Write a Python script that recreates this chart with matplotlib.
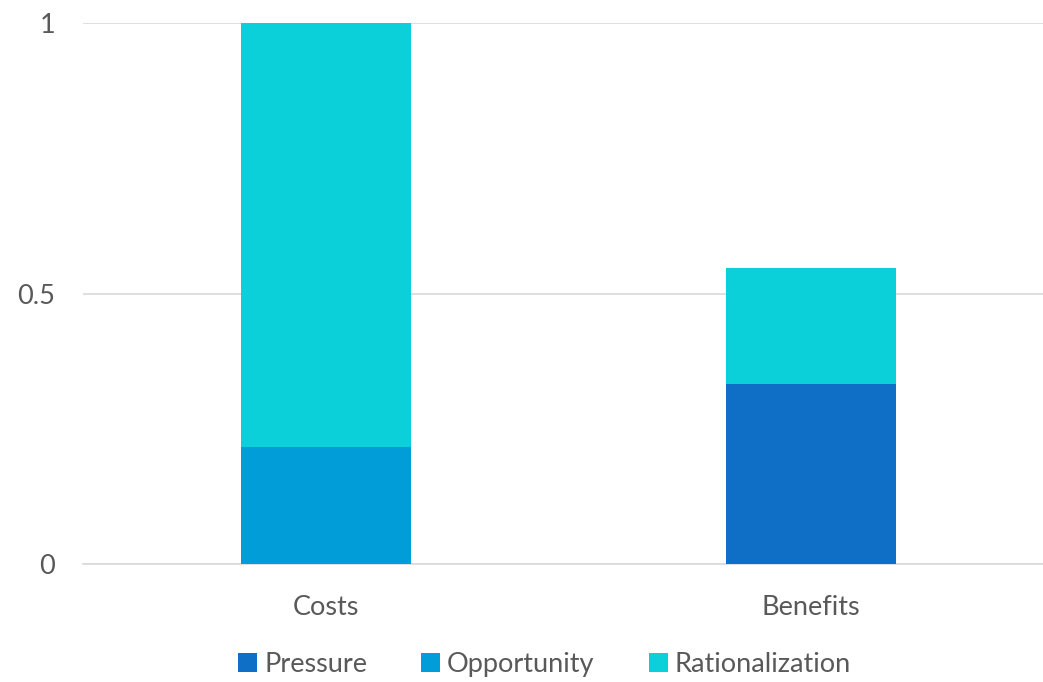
import matplotlib
matplotlib.use("Agg")
import matplotlib.pyplot as plt
import numpy as np

categories = ["Costs", "Benefits"]
pressure = [0.0, 0.332]
opportunity = [0.217, 0.0]
rationalization = [0.783, 0.216]

series = [("Pressure", pressure, "#0F6FC6"),
          ("Opportunity", opportunity, "#009DD9"),
          ("Rationalization", rationalization, "#0BD0D9")]

plt.rcParams["font.family"] = ["Lato", "DejaVu Sans"]
text_col = "#595959"

fig = plt.figure(figsize=(10.43, 6.82), dpi=100)
# plot area runs a little past the right edge, as in the source image
ax = fig.add_axes([0.0795, 0.173, 0.931, 0.793])

x = np.arange(len(categories))
bottom = np.zeros(len(categories))
for name, vals, col in series:
    vals = np.asarray(vals)
    ax.bar(x, vals, 0.35, bottom=bottom, color=col, label=name, zorder=3)
    bottom += vals

ax.set_xlim(-0.5, 1.5)
ax.set_ylim(0, 1)
ax.set_yticks([0, 0.5, 1])
ax.set_yticklabels(["0", "0.5", "1"])
ax.set_xticks(x)
ax.set_xticklabels(categories)
ax.yaxis.grid(True, color="#D9D9D9", linewidth=1.2, zorder=0)
for s in ["top", "right", "left"]:
    ax.spines[s].set_visible(False)
ax.spines["bottom"].set_color("#D9D9D9")
ax.spines["bottom"].set_linewidth(1.2)
ax.tick_params(axis="both", length=0, labelsize=19.5, colors=text_col)
ax.tick_params(axis="y", pad=20)
ax.tick_params(axis="x", pad=22)

fig.legend(loc="lower center", bbox_to_anchor=(0.522, -0.028), ncol=3, frameon=False,
           fontsize=19.5, labelcolor=text_col, handlelength=0.7, handleheight=0.7,
           handletextpad=0.25, columnspacing=2.0)

fig.savefig("out.png", dpi=100)
